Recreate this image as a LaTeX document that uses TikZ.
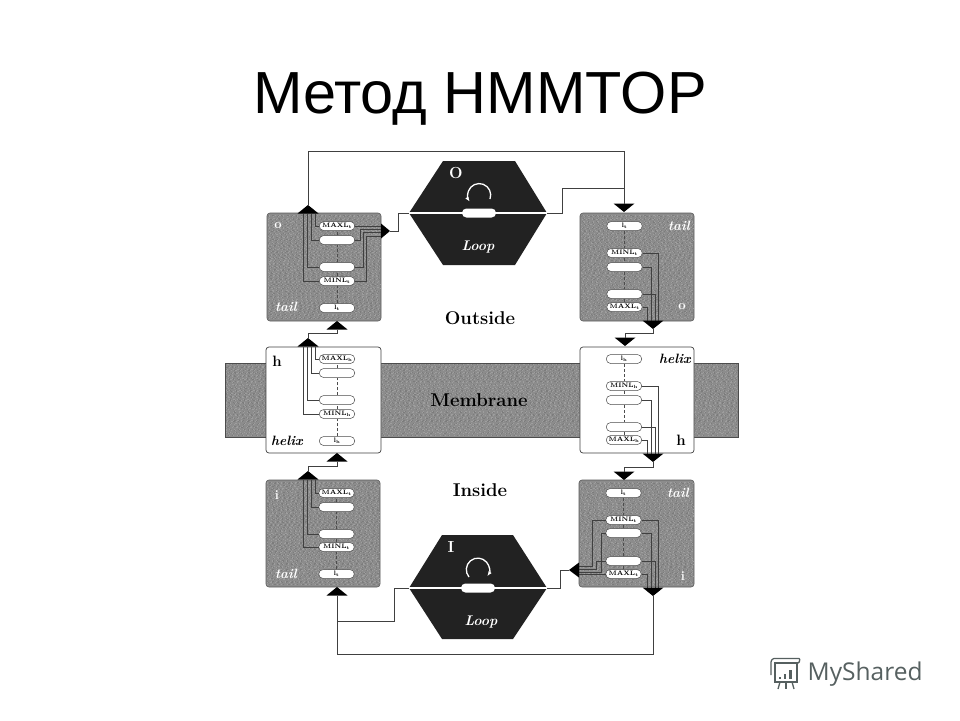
\documentclass[tikz,border=0pt]{standalone}
\usepackage{fontspec}
\newfontfamily\titlefont{Liberation Sans}
\newfontfamily\logofont{Open Sans}
\usetikzlibrary{arrows.meta}
\definecolor{boxgray}{HTML}{8C8C8C}
\definecolor{specklelow}{HTML}{7C7C7C}
\definecolor{specklehigh}{HTML}{9E9E9E}
\definecolor{hexdark}{HTML}{222222}
\definecolor{logogray}{HTML}{566060}
\newcommand{\speckle}[4]{
   \foreach \row in {0,1.5,...,#4} {
      \pgfmathsetmacro\phlow{rnd*14}
      \pgfmathsetmacro\phhigh{rnd*14}
      \draw[specklelow, line width=1pt, dash pattern=on 1pt off 2.7pt on 1pt off 4.1pt on 2pt off 3.3pt, dash phase=\phlow pt] (#1,#2+\row) -- ++(#3,0);
      \draw[specklehigh, line width=1pt, dash pattern=on 1pt off 3.4pt on 1.5pt off 2.6pt on 1pt off 4.6pt, dash phase=\phhigh pt] (#1,#2+\row) -- ++(#3,0);
   }
}
\tikzset{
   graybox/.style={fill=boxgray, draw=black!65, line width=.6pt, rounded corners=3pt, inner sep=0pt},
   whitebox/.style={fill=white, draw=black!75, line width=.7pt, rounded corners=3pt, inner sep=0pt},
   pill/.style={fill=white, draw=black!70, line width=.5pt, rounded corners=4.4pt, minimum width=35.5pt, minimum height=9pt, inner sep=0pt, font=\fontsize{6.4}{7}\selectfont\bfseries},
   conn/.style={draw=black!75, line width=.9pt},
   wire/.style={draw=black!75, line width=.55pt},
   chain/.style={draw=black!70, line width=.5pt, densely dashed},
   tag/.style={font=\fontsize{15}{16}\selectfont\bfseries},
   grayletter/.style={font=\fontsize{13}{14}\selectfont\bfseries, text=white},
   graytail/.style={font=\fontsize{13.5}{14}\selectfont\bfseries\itshape, text=white},
   helixtag/.style={font=\fontsize{13.5}{14}\selectfont\bfseries\itshape},
   looptag/.style={font=\fontsize{16}{17}\selectfont\bfseries, text=white},
   loopname/.style={font=\fontsize{14}{15}\selectfont\bfseries\itshape, text=white},
   region/.style={font=\fontsize{18.5}{20}\selectfont\bfseries},
   logoline/.style={draw=logogray, line width=1.3pt}
}
\begin{document}
\begin{tikzpicture}[x=1pt,y=-1pt]
   \useasboundingbox (0,0) rectangle (960,720);
   \pgfmathsetseed{41}
   \node[font=\titlefont\fontsize{59.4}{62}\selectfont, anchor=base] (title) at (480,113) {Метод HMMTOP};
   \node[fill=boxgray, draw=black!70, line width=.6pt, minimum width=513pt, minimum height=74pt, inner sep=0pt] (membraneband) at (481.5,400) {};
   \speckle{226}{364.5}{511}{71}
   \node[graybox, minimum width=114pt, minimum height=108pt] (tlBox) at (324,267) {};
   \node[graybox, minimum width=114pt, minimum height=108pt] (trBox) at (637,267) {};
   \node[whitebox, minimum width=115pt, minimum height=106pt] (hlBox) at (323.5,400) {};
   \node[whitebox, minimum width=114pt, minimum height=106pt] (hrBox) at (637,400) {};
   \node[graybox, minimum width=114pt, minimum height=107pt] (blBox) at (323,533.5) {};
   \node[graybox, minimum width=115pt, minimum height=107pt] (brBox) at (636.5,533.5) {};
   \speckle{268}{215}{112}{104}
   \speckle{581}{215}{112}{104}
   \speckle{267}{482}{112}{103}
   \speckle{580}{482}{113}{103}
   \foreach \bx/\px/\sub/\a/\b/\c/\d/\e in {tl/337/t/226/240/267/281/308, tr/624.5/t/307/294/267/253/226,
      hl/337/h/359/373/400/414/441, hr/624/h/440/427/400/386/359,
      bl/336.5/t/493/507/534/547/574, br/623.5/t/574/561/533/520/493} {
      \node[pill] (\bx Max) at (\px,\a) {MAXL\textsubscript{\sub}};
      \node[pill] (\bx Pa) at (\px,\b) {};
      \node[pill] (\bx Pb) at (\px,\c) {};
      \node[pill] (\bx Min) at (\px,\d) {MINL\textsubscript{\sub}};
      \node[pill] (\bx Len) at (\px,\e) {l\textsubscript{\sub}};
      \draw[chain] (\bx Len) -- (\bx Min);
      \draw[chain] (\bx Min) -- (\bx Pb);
      \draw[chain] (\bx Pb) -- (\bx Pa);
      \draw[chain] (\bx Pa) -- (\bx Max);
   }
   \foreach \nm/\px/\py in {tlOut/308/205, tlIn/337/321, hlOut/308/338, hlIn/337/453, blOut/308/471, blIn/337/587} {
      \coordinate (\nm) at (\px,\py);
      \coordinate (\nm b) at (\px,\py+8.5);
   }
   \foreach \nm/\px/\py in {trIn/624/212, trOut/653/329, hrIn/625/346, hrOut/653/462, brIn/624/480, brOut/653/596} {
      \coordinate (\nm) at (\px,\py);
      \coordinate (\nm b) at (\px,\py-8.5);
   }
   \coordinate (tlSide) at (390,231);
   \coordinate (tlSideb) at (381,231);
   \coordinate (brSide) at (569,570);
   \coordinate (brSideb) at (579,570);
   \foreach \bx in {tl,hl,bl} {
      \draw[wire] (\bx Max.west) -| ([xshift=7pt]\bx Outb);
      \draw[wire] (\bx Pa.west) -| ([xshift=3pt]\bx Outb);
      \draw[wire] (\bx Pb.west) -| ([xshift=-1pt]\bx Outb);
      \draw[wire] (\bx Min.west) -| ([xshift=-5pt]\bx Outb);
   }
   \foreach \bx in {tr,hr,br} {
      \draw[wire] (\bx Max.east) -| ([xshift=-6pt]\bx Outb);
      \draw[wire] (\bx Pb.east) -| ([xshift=-2pt]\bx Outb);
      \draw[wire] (\bx Pa.east) -| ([xshift=2pt]\bx Outb);
      \draw[wire] (\bx Min.east) -| ([xshift=5pt]\bx Outb);
   }
   \draw[wire] (tlMax.east) -- (tlSideb |- tlMax.east);
   \draw[wire] (tlPa.east) -- ++(5,0) |- ([yshift=2pt]tlSideb);
   \draw[wire] (tlPb.east) -- ++(8,0) |- ([yshift=-1pt]tlSideb);
   \draw[wire] (tlMin.east) -- ++(11,0) |- ([yshift=-5pt]tlSideb);
   \draw[wire] (brMax.west) -- (brSideb |- brMax.west);
   \draw[wire] (brPb.west) -- ++(-4,0) |- ([yshift=-2pt]brSideb);
   \draw[wire] (brPa.west) -- ++(-9,0) |- ([yshift=1pt]brSideb);
   \draw[wire] (brMin.west) -- ++(-13,0) |- ([yshift=4pt]brSideb);
   \foreach \nm in {tlOut,tlIn,hlOut,hlIn,blOut,blIn,trIn,trOut,hrIn,hrOut,brIn,brOut} {
      \fill[black] (\nm) -- ([xshift=-10.5pt]\nm b) -- ([xshift=10.5pt]\nm b) -- cycle;
   }
   \fill[black] (tlSide) -- ([yshift=7.5pt]tlSideb) -- ([yshift=-7.5pt]tlSideb) -- cycle;
   \fill[black] (brSide) -- ([yshift=7.5pt]brSideb) -- ([yshift=-7.5pt]brSideb) -- cycle;
   % loop states
   \fill[hexdark] (409,213) coordinate (hexOl) -- (443,161) -- (515,161) -- (547,213) coordinate (hexOr) -- (515,265) -- (443,265) -- cycle;
   \fill[hexdark] (409,588) coordinate (hexIl) -- (442,535) -- (513,535) -- (547,588) coordinate (hexIr) -- (513,639) -- (442,639) -- cycle;
   \draw[white, line width=1.2pt] (hexOl) -- (hexOr);
   \draw[white, line width=1.2pt] (hexIl) -- (hexIr);
   \node[pill, draw=none, minimum width=34pt] (hexOp) at (479,213) {};
   \node[pill, draw=none, minimum width=34pt] (hexIp) at (478,588) {};
   \draw[white, line width=1.3pt, -{Latex[length=5pt]}] (490,199) arc[start angle=20, end angle=-215, radius=11.5];
   \draw[white, line width=1.3pt, -{Latex[length=5pt]}] (469,577) arc[start angle=140, end angle=395, radius=11.5];
   \coordinate (topL) at (308,151);
   \coordinate (topR) at (624,151);
   \coordinate (midR) at (562,188);
   \coordinate (botL) at (337,654);
   \coordinate (botR) at (653,654);
   \coordinate (midL) at (394,621);
   \draw[conn] (tlOut) -- (topL) -- (topR) -- (trInb);
   \draw[conn] (hexOr) -- (hexOr -| midR) -- (midR) -- (midR -| trIn);
   \draw[conn] (tlSide) -- (398,231) -- (398,213) -- (hexOl);
   \draw[conn] (brOut) -- (botR) -- (botL) -- (blInb);
   \draw[conn] (brSide) -- (560,570) -- (560,588) -- (hexIr);
   \draw[conn] (hexIl) -- (hexIl -| midL) -- (midL) -- (midL -| blIn);
   \draw[conn] (tlInb) -- ++(0,4) -| (hlOut);
   \draw[conn] (hlInb) -- ++(0,4.5) -| (blOut);
   \draw[conn] (trOut) -- ++(0,4.5) -| (hrInb);
   \draw[conn] (hrOut) -- ++(0,5) -| (brInb);
   \node[looptag] (hexOtag) at (456,173) {O};
   \node[looptag] (hexItag) at (451,547) {I};
   \node[loopname] (hexOname) at (478,247) {Loop};
   \node[loopname] (hexIname) at (481,622) {Loop};
   \node[grayletter] (tlTag) at (278,226) {o};
   \node[graytail] (tlName) at (286,307) {tail};
   \node[graytail] (trName) at (679,226) {tail};
   \node[grayletter] (trTag) at (682,307) {o};
   \node[tag] (hlTag) at (277,361) {h};
   \node[helixtag] (hlName) at (287,441) {helix};
   \node[helixtag] (hrName) at (675,359) {helix};
   \node[tag] (hrTag) at (681,440) {h};
   \node[grayletter] (blTag) at (277,495) {i};
   \node[graytail] (blName) at (286,574) {tail};
   \node[graytail] (brName) at (678,493) {tail};
   \node[grayletter] (brTag) at (683,576) {i};
   \node[region] (outside) at (480,318) {Outside};
   \node[region] (membrane) at (479,400) {Membrane};
   \node[region] (inside) at (480,490) {Inside};
   % logo
   \draw[logoline, rounded corners=1pt] (771,675) -- (771,661) -- (773,658.5) -- (800,658.5) -- (799,663) -- (775,663);
   \draw[logoline] (775,663) rectangle (797,682);
   \draw[logoline] (780,682) -- (778,689);
   \draw[logoline] (786,682) -- (786,689);
   \draw[logoline] (792,682) -- (794,689);
   \fill[logogray] (779,677) rectangle (781,679);
   \fill[logogray] (784,674) rectangle (786,679);
   \fill[logogray] (789,670) rectangle (792,679);
   \node[font=\logofont\fontsize{24.5}{26}\selectfont, text=logogray, anchor=west, inner sep=0pt] (logotext) at (807.5,674) {MyShared};
\end{tikzpicture}
\end{document}
